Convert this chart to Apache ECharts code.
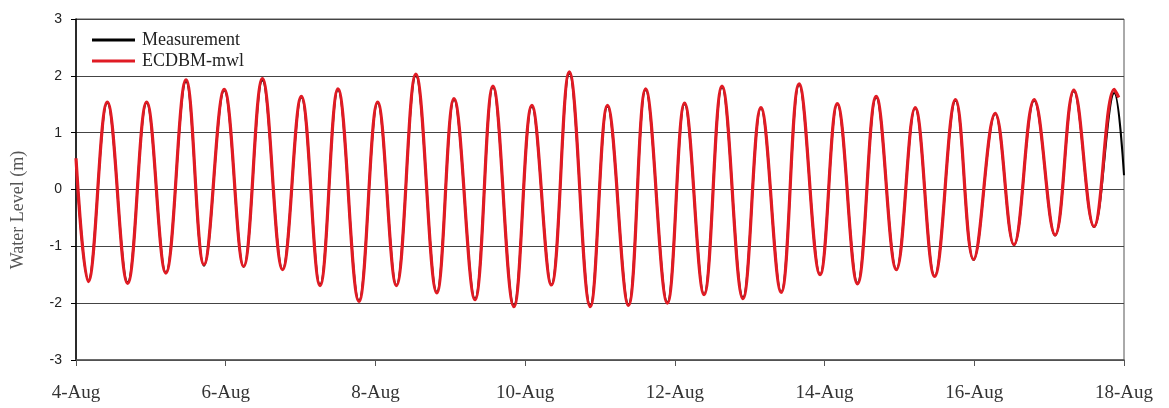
<!DOCTYPE html>
<html>
<head>
<meta charset="utf-8">
<script src="https://cdn.jsdelivr.net/npm/echarts@6/dist/echarts.min.js"></script>
<style>
  html, body { margin: 0; padding: 0; background: #fff; }
  #chart { width: 1169px; height: 408px; }
</style>
</head>
<body>
<div id="chart"></div>
<script>
// Tidal water level, 4-Aug to 18-Aug. Times are days after 4-Aug 00:00,
// sampled at each high / low water; levels in metres.
const dateLabels = ['4-Aug', '6-Aug', '8-Aug', '10-Aug', '12-Aug', '14-Aug', '16-Aug', '18-Aug'];

const measTime = [0.00, 0.164, 0.418, 0.69, 0.944, 1.20, 1.47, 1.71, 1.98, 2.24, 2.49, 2.76, 3.01, 3.26, 3.50, 3.78,
  4.03, 4.28, 4.54, 4.82, 5.05, 5.33, 5.57, 5.85, 6.09, 6.35, 6.59, 6.87, 7.10, 7.38, 7.61, 7.90, 8.13, 8.39,
  8.63, 8.91, 9.15, 9.42, 9.66, 9.94, 10.17, 10.44, 10.69, 10.96, 11.21, 11.47, 11.75, 11.99, 12.28, 12.53,
  12.80, 13.08, 13.33, 13.60, 13.87, 14.00];
const measLevel = [0.52, -1.60, 1.52, -1.63, 1.52, -1.46, 1.90, -1.34, 1.74, -1.36, 1.92, -1.40, 1.62, -1.67, 1.75, -1.95,
  1.52, -1.68, 2.00, -1.80, 1.58, -1.92, 1.80, -2.04, 1.46, -1.67, 2.04, -2.04, 1.46, -2.02, 1.75, -1.98, 1.50, -1.84,
  1.80, -1.90, 1.43, -1.80, 1.84, -1.49, 1.50, -1.64, 1.62, -1.40, 1.43, -1.52, 1.56, -1.24, 1.33, -0.98,
  1.56, -0.81, 1.73, -0.66, 1.70, 0.25];

const modelTime = [0.00, 0.164, 0.418, 0.69, 0.944, 1.20, 1.47, 1.71, 1.98, 2.24, 2.49, 2.76, 3.01, 3.26, 3.50, 3.78,
  4.03, 4.28, 4.54, 4.82, 5.05, 5.33, 5.57, 5.85, 6.09, 6.35, 6.59, 6.87, 7.10, 7.38, 7.61, 7.90, 8.13, 8.39,
  8.63, 8.91, 9.15, 9.42, 9.66, 9.94, 10.17, 10.44, 10.69, 10.96, 11.21, 11.47, 11.75, 11.99, 12.28, 12.53,
  12.80, 13.08, 13.33, 13.60, 13.87, 13.93];
const modelLevel = [0.55, -1.62, 1.54, -1.65, 1.54, -1.47, 1.93, -1.32, 1.76, -1.35, 1.95, -1.41, 1.64, -1.69, 1.77, -1.97,
  1.54, -1.69, 2.03, -1.82, 1.60, -1.94, 1.82, -2.06, 1.48, -1.68, 2.07, -2.06, 1.48, -2.04, 1.77, -2.00, 1.52, -1.85,
  1.82, -1.92, 1.44, -1.81, 1.86, -1.50, 1.51, -1.66, 1.64, -1.41, 1.44, -1.53, 1.58, -1.23, 1.34, -0.97,
  1.58, -0.80, 1.75, -0.65, 1.76, 1.62];

const pairs = (xs, ys) => xs.map((x, i) => [x, ys[i]]);

const serif = '"Liberation Serif", "Times New Roman", serif';
const sans = '"Liberation Sans", Arial, sans-serif';

const chart = echarts.init(document.getElementById('chart'), null, { renderer: 'canvas' });
chart.setOption({
  animation: false,
  backgroundColor: '#fff',
  grid: {
    left: 76, right: 45, top: 19, bottom: 48,
    show: true, borderColor: '#555', borderWidth: 1
  },
  legend: {
    orient: 'vertical',
    left: 87, top: 26,
    icon: 'rect',
    itemWidth: 43, itemHeight: 3, itemGap: 3,
    textStyle: { fontFamily: serif, fontSize: 18, color: '#222', padding: [0, 0, 0, 2] },
    data: ['Measurement', 'ECDBM-mwl']
  },
  graphic: [{
    type: 'text',
    x: 18, y: 210,
    rotation: Math.PI / 2,
    style: {
      text: 'Water Level (m)',
      font: '18px ' + serif,
      fill: '#555',
      textAlign: 'center',
      textVerticalAlign: 'middle'
    }
  }],
  xAxis: {
    type: 'value',
    min: 0, max: 14, interval: 2,
    axisLine: { show: true, onZero: false, lineStyle: { color: '#555', width: 1.5 } },
    axisTick: { show: true, inside: false, length: 6, lineStyle: { color: '#555' } },
    splitLine: { show: false },
    axisLabel: {
      margin: 24,
      fontFamily: serif, fontSize: 19, color: '#333',
      formatter: v => dateLabels[Math.round(v / 2)]
    }
  },
  yAxis: {
    type: 'value',
    min: -3, max: 3, interval: 1,
    axisLine: { show: true, onZero: false, lineStyle: { color: '#000', width: 1.5 } },
    axisTick: { show: true, inside: false, length: 5, lineStyle: { color: '#000' } },
    splitLine: { show: true, lineStyle: { color: '#444', width: 1 } },
    axisLabel: { margin: 14, fontFamily: sans, fontSize: 14, color: '#222' }
  },
  series: [
    {
      name: 'Measurement',
      type: 'line',
      data: pairs(measTime, measLevel),
      smooth: 0.4,
      showSymbol: false,
      symbol: 'none',
      z: 2,
      color: '#000',
      lineStyle: { color: '#000', width: 2 }
    },
    {
      name: 'ECDBM-mwl',
      type: 'line',
      data: pairs(modelTime, modelLevel),
      smooth: 0.4,
      showSymbol: false,
      symbol: 'none',
      z: 3,
      color: '#e01b24',
      lineStyle: { color: '#e01b24', width: 3.2 }
    }
  ]
});
</script>
</body>
</html>
